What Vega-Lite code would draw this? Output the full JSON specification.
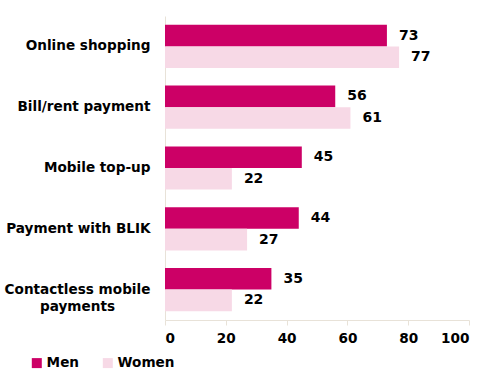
{
  "$schema": "https://vega.github.io/schema/vega-lite/v6.json",
  "autosize": {"type": "none"},
  "padding": {"left": 165, "top": 16, "right": 34, "bottom": 67},
  "width": 304,
  "height": 304,
  "background": "white",
  "data": {"values": [
    {"category": "Online shopping", "gender": "Men", "value": 73},
    {"category": "Online shopping", "gender": "Women", "value": 77},
    {"category": "Bill/rent payment", "gender": "Men", "value": 56},
    {"category": "Bill/rent payment", "gender": "Women", "value": 61},
    {"category": "Mobile top-up", "gender": "Men", "value": 45},
    {"category": "Mobile top-up", "gender": "Women", "value": 22},
    {"category": "Payment with BLIK", "gender": "Men", "value": 44},
    {"category": "Payment with BLIK", "gender": "Women", "value": 27},
    {"category": "Contactless mobile payments", "gender": "Men", "value": 35},
    {"category": "Contactless mobile payments", "gender": "Women", "value": 22}
  ]},
  "encoding": {
    "y": {
      "field": "category", "type": "nominal", "sort": null,
      "scale": {"paddingInner": 0.29, "paddingOuter": 0.145},
      "axis": {
        "title": null, "ticks": false, "domainColor": "#E8E2D8", "domainWidth": 1,
        "labelFont": "DejaVu Sans", "labelFontWeight": "bold", "labelFontSize": 13.6,
        "labelColor": "#000000", "labelLimit": 200, "labelLineHeight": 17,
        "labelAlign": {"condition": {"test": "datum.value == 'Contactless mobile payments'", "value": "center"}, "value": "right"},
        "labelPadding": {"condition": {"test": "datum.value == 'Contactless mobile payments'", "value": 88}, "value": 15},
        "labelExpr": "datum.value == 'Contactless mobile payments' ? ['Contactless mobile', 'payments'] : datum.value"
      }
    },
    "yOffset": {"field": "gender", "type": "nominal", "sort": ["Men", "Women"], "scale": {"paddingInner": 0, "paddingOuter": 0}},
    "x": {
      "field": "value", "type": "quantitative",
      "scale": {"domain": [0, 100], "nice": false},
      "axis": {
        "title": null, "values": [0, 20, 40, 60, 80, 100], "grid": false,
        "domainColor": "#E8E2D8", "tickColor": "#E8E2D8", "tickSize": 5,
        "labelFont": "DejaVu Sans", "labelFontWeight": "bold", "labelFontSize": 13.6,
        "labelColor": "#000000", "labelPadding": 6
      }
    }
  },
  "layer": [
    {
      "mark": {"type": "bar", "cornerRadius": 0},
      "encoding": {
        "color": {
          "field": "gender", "type": "nominal",
          "scale": {"domain": ["Men", "Women"], "range": ["#CC0066", "#F7D9E6"]},
          "legend": {
            "title": null, "orient": "none", "direction": "horizontal",
            "legendX": -135, "legendY": 340, "padding": 0,
            "symbolType": "square", "symbolSize": 100, "symbolStrokeWidth": 0,
            "labelFont": "DejaVu Sans", "labelFontWeight": "bold", "labelFontSize": 13.6, "labelColor": "#000000",
            "labelOffset": 3, "columnPadding": 21
          }
        }
      }
    },
    {
      "mark": {"type": "text", "align": "left", "dx": 12, "font": "DejaVu Sans", "fontWeight": "bold", "fontSize": 14, "color": "#000000"},
      "encoding": {"text": {"field": "value", "type": "quantitative"}}
    }
  ],
  "config": {"view": {"stroke": null}}
}
